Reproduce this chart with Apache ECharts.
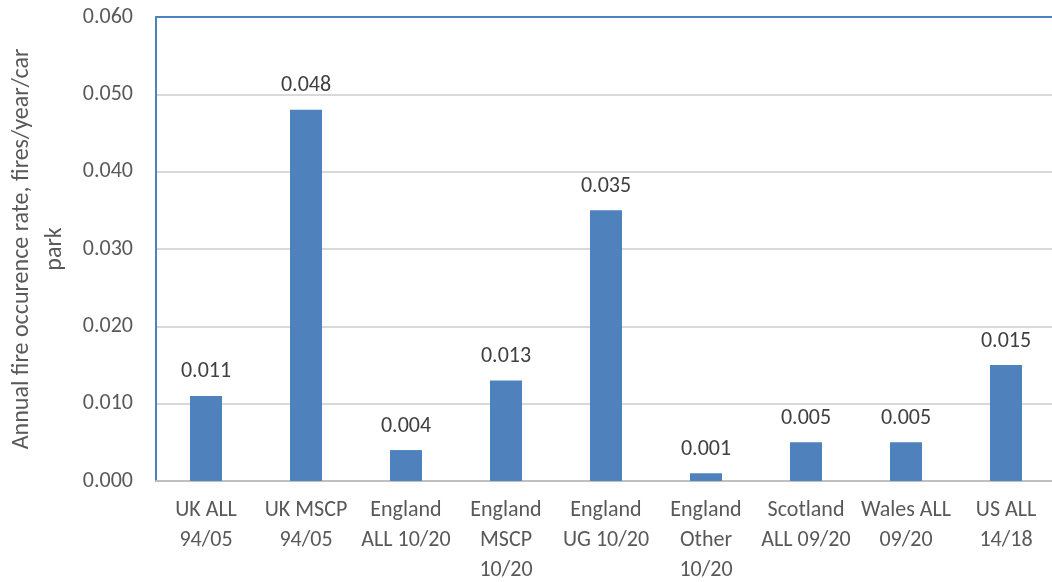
<!DOCTYPE html>
<html>
<head>
<meta charset="utf-8">
<script src="https://cdn.jsdelivr.net/npm/echarts@6/dist/echarts.min.js"></script>
<style>
  html, body { margin: 0; padding: 0; background: #fff; }
  #main { width: 1052px; height: 582px; }
</style>
</head>
<body>
<div id="main"></div>
<script>
// categories (line breaks as in the original labels)
const categories = [
  'UK ALL\n94/05', 'UK MSCP\n94/05', 'England\nALL 10/20', 'England\nMSCP\n10/20',
  'England\nUG 10/20', 'England\nOther\n10/20', 'Scotland\nALL 09/20', 'Wales ALL\n09/20', 'US ALL\n14/18'
];
const rates = [0.011, 0.048, 0.004, 0.013, 0.035, 0.001, 0.005, 0.005, 0.015];
const yTitle = 'Annual fire occurence rate, fires/year/car\npark';

window.addEventListener('load', function () {
  let chart = echarts.init(document.getElementById('main'));
  let font = 'Calibri, Carlito, Lato, "Open Sans", sans-serif';
  let option = {
    animation: false,
    textStyle: { fontFamily: font },
    grid: {
      left: 156, top: 17, width: 900, height: 464,
      outerBoundsMode: 'none', containLabel: false
    },
    xAxis: [{
      type: 'category',
      data: categories,
      axisTick: { show: false },
      axisLine: { lineStyle: { color: '#BFBFBF', width: 2 } },
      axisLabel: { color: '#595959', fontSize: 22, lineHeight: 30, margin: 14, fontFamily: font, interval: 0 }
    }, {
      // blue frame line along the top of the plot
      type: 'category',
      position: 'top',
      data: categories,
      axisTick: { show: false },
      axisLabel: { show: false },
      axisLine: { show: true, lineStyle: { color: '#4F81BD', width: 2 } },
      z: 5
    }],
    yAxis: {
      type: 'value',
      min: 0, max: 0.06, interval: 0.01,
      name: yTitle,
      nameLocation: 'middle',
      nameGap: 81,
      nameTextStyle: { color: '#595959', fontSize: 24, lineHeight: 33, fontFamily: font },
      axisLine: { show: true, lineStyle: { color: '#4F81BD', width: 2 } },
      axisTick: { show: false },
      splitLine: { lineStyle: { color: '#D9D9D9', width: 2 } },
      axisLabel: {
        color: '#595959', fontSize: 22, margin: 23, fontFamily: font,
        formatter: function (v) { return v.toFixed(3); }
      }
    },
    series: [{
      type: 'bar',
      data: rates,
      barWidth: 32,
      itemStyle: { color: '#4F81BD' },
      label: {
        show: true, position: 'top', distance: 13,
        color: '#404040', fontSize: 22, fontFamily: font,
        formatter: function (p) { return p.value.toFixed(3); }
      }
    }]
  };
  chart.setOption(option);
});
</script>
</body>
</html>
